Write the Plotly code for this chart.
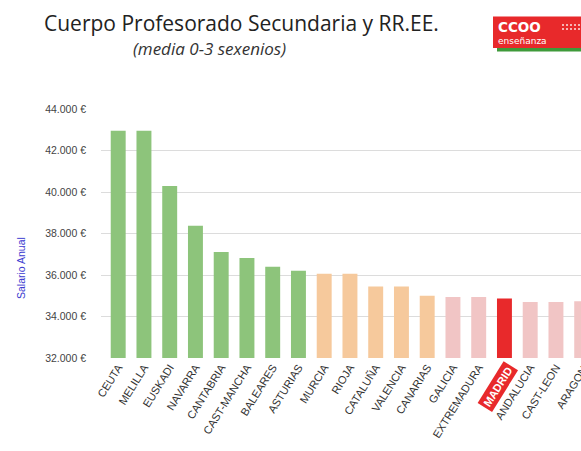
import plotly.graph_objects as go

# ---- data ----
regions = ["CEUTA", "MELILLA", "EUSKADI", "NAVARRA", "CANTABRIA", "CAST-MANCHA",
           "BALEARES", "ASTURIAS", "MURCIA", "RIOJA", "CATALUÑA", "VALENCIA",
           "CANARIAS", "GALICIA", "EXTREMADURA", "MADRID", "ANDALUCIA", "CAST-LEON",
           "ARAGON"]
salaries = [42950, 42950, 40290, 38370, 37110, 36820, 36400, 36200, 36060, 36060,
            35450, 35450, 35000, 34940, 34940, 34870, 34700, 34700, 34740]
groups = ["green"] * 8 + ["orange"] * 5 + ["pink"] * 2 + ["red"] + ["pink"] * 3
ytick_vals = [32000, 34000, 36000, 38000, 40000, 42000, 44000]
ytick_text = ["32.000 €", "34.000 €", "36.000 €", "38.000 €", "40.000 €", "42.000 €", "44.000 €"]

title_text = "Cuerpo Profesorado Secundaria y RR.EE."
subtitle_text = "(media 0-3 sexenios)"
yaxis_title = "Salario Anual"
highlight = "MADRID"

palette = {"green": "#8dc47b", "orange": "#f6c99c", "pink": "#f1c5c5", "red": "#e8292b"}
colors = [palette[g] for g in groups]

W, H = 581, 451
ML, MR, MT, MB = 101, 0, 109, 93
PW, PH = W - ML - MR, H - MT - MB
slot = 25.75
x0 = -17.2 / slot
x1 = x0 + PW / slot


def px(x):
    return (x - ML) / PW


def py(y):
    return (H - MB - y) / PH


idx = list(range(len(regions)))
tick_text = ["" if r == highlight else r for r in regions]

fig = go.Figure(go.Bar(x=idx, y=salaries, marker=dict(color=colors, line=dict(width=0)),
                       width=0.58, hoverinfo="skip"))

label_font = dict(family="Liberation Sans, Arial, sans-serif", size=11, color="#333333")
angle = -58

fig.update_layout(
    width=W, height=H, margin=dict(l=ML, r=MR, t=MT, b=MB, autoexpand=False),
    paper_bgcolor="white", plot_bgcolor="white", showlegend=False,
    xaxis=dict(range=[x0, x1], tickmode="array", tickvals=idx, ticktext=tick_text,
               tickangle=angle, tickfont=label_font, showgrid=False, showline=False,
               zeroline=False, ticks="", automargin=False),
    yaxis=dict(range=[32000, 44000], tickmode="array", tickvals=ytick_vals, ticktext=ytick_text,
               tickfont=dict(family="Liberation Sans, Arial, sans-serif", size=10.5, color="#444444"),
               showgrid=True, gridcolor="#dcdcdc", gridwidth=1, zeroline=False, showline=False,
               ticks="", ticklabelstandoff=14, automargin=False),
)

ann = []
# title + subtitle
ann.append(dict(text=title_text, xref="paper", yref="paper", x=px(241), y=py(23),
                showarrow=False, xanchor="center", yanchor="middle",
                font=dict(family="Open Sans, sans-serif", size=21, color="#222222")))
ann.append(dict(text="<i>" + subtitle_text + "</i>", xref="paper", yref="paper", x=px(209), y=py(48),
                showarrow=False, xanchor="center", yanchor="middle",
                font=dict(family="Open Sans, sans-serif", size=17, color="#333333")))
# y axis title
ann.append(dict(text=yaxis_title, xref="paper", yref="paper", x=px(21), y=py(268),
                showarrow=False, textangle=-90, xanchor="center", yanchor="middle",
                font=dict(family="Liberation Sans, Arial, sans-serif", size=10.5, color="#3a3ad0")))
# highlighted label
hi = regions.index(highlight)
ann.append(dict(text="<b>" + highlight + "</b>", xref="x", yref="paper", x=hi, y=0,
                showarrow=False, textangle=angle, xanchor="right", yanchor="top",
                xshift=14, yshift=-3, bgcolor="#e8292b", borderpad=2,
                font=dict(family="Liberation Sans, Arial, sans-serif", size=11, color="white")))
# last (partially visible) label
last = len(regions) - 1
ann.append(dict(text=regions[last], xref="paper", yref="paper", x=(last - x0) / (x1 - x0), y=0,
                showarrow=False, textangle=angle, xanchor="right", yanchor="top",
                xshift=11, yshift=-3, font=label_font))
# logo texts
ann.append(dict(text="<b>CCOO</b>", xref="paper", yref="paper", x=px(496), y=py(27),
                showarrow=False, xanchor="left", yanchor="middle",
                font=dict(family="DejaVu Sans, sans-serif", size=13.5, color="white")))
ann.append(dict(text="enseñanza", xref="paper", yref="paper", x=px(496), y=py(41.5),
                showarrow=False, xanchor="left", yanchor="middle",
                font=dict(family="DejaVu Sans, sans-serif", size=9, color="white")))
fig.update_layout(annotations=ann)

shapes = [
    dict(type="rect", xref="paper", yref="paper", x0=px(493), x1=px(582), y0=py(48), y1=py(16.5),
         fillcolor="#e8292b", line=dict(width=0), layer="above"),
    dict(type="rect", xref="paper", yref="paper", x0=px(497), x1=px(582), y0=py(51.5), y1=py(48),
         fillcolor="#3f9a3a", line=dict(width=0), layer="above"),
]
for r in range(2):
    for c in range(5):
        cx = 562 + c * 4
        cy = 24 + r * 4
        shapes.append(dict(type="rect", xref="paper", yref="paper", x0=px(cx), x1=px(cx + 2),
                           y0=py(cy + 2), y1=py(cy), fillcolor="#f7b3b3",
                           line=dict(width=0), layer="above"))
fig.update_layout(shapes=shapes)

fig.write_html("out.html", config={"displayModeBar": False},
               post_script="document.body.style.margin='0';document.body.style.overflow='hidden';")
